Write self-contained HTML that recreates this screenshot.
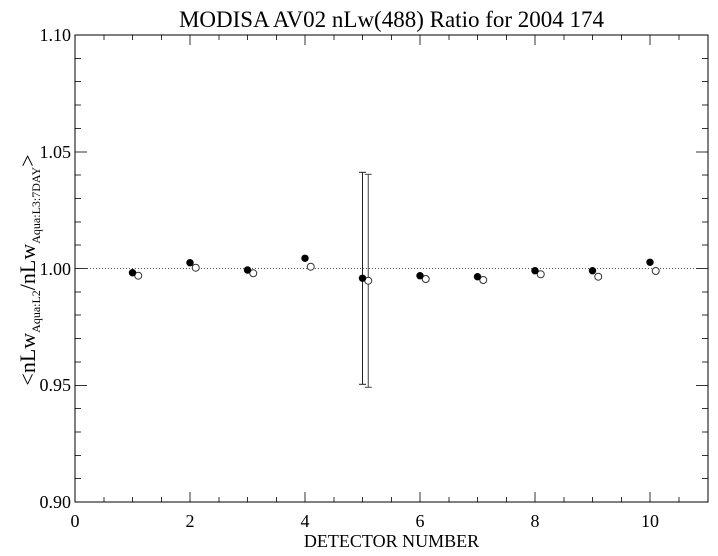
<!DOCTYPE html>
<html>
<head>
<meta charset="utf-8">
<style>
  html, body { margin: 0; padding: 0; background: #ffffff; }
  body { width: 718px; height: 556px; overflow: hidden; }
  svg { display: block; }
  text { font-family: "Liberation Serif", "DejaVu Serif", serif; fill: #000; }
</style>
</head>
<body>
<svg width="718" height="556" viewBox="0 0 718 556" xmlns="http://www.w3.org/2000/svg">
  <rect x="0" y="0" width="718" height="556" fill="#ffffff"/>

  <!-- Title -->
  <text x="391.5" y="27" font-size="23" text-anchor="middle">MODISA AV02 nLw(488) Ratio for 2004 174</text>

  <!-- Dotted reference line at 1.00 -->
  <line x1="75" y1="268.5" x2="708" y2="268.5" stroke="#555" stroke-width="1" stroke-dasharray="1,2"/>

  <!-- Ticks -->
  <g stroke="#333" stroke-width="1" shape-rendering="crispEdges">
    <!-- x minor ticks bottom & top (every 0.5) -->
    <line x1="103.75" y1="502" x2="103.75" y2="497"/><line x1="103.75" y1="35" x2="103.75" y2="40"/>
    <line x1="132.5" y1="502" x2="132.5" y2="497"/><line x1="132.5" y1="35" x2="132.5" y2="40"/>
    <line x1="161.25" y1="502" x2="161.25" y2="497"/><line x1="161.25" y1="35" x2="161.25" y2="40"/>
    <line x1="218.75" y1="502" x2="218.75" y2="497"/><line x1="218.75" y1="35" x2="218.75" y2="40"/>
    <line x1="247.5" y1="502" x2="247.5" y2="497"/><line x1="247.5" y1="35" x2="247.5" y2="40"/>
    <line x1="276.25" y1="502" x2="276.25" y2="497"/><line x1="276.25" y1="35" x2="276.25" y2="40"/>
    <line x1="333.75" y1="502" x2="333.75" y2="497"/><line x1="333.75" y1="35" x2="333.75" y2="40"/>
    <line x1="362.5" y1="502" x2="362.5" y2="497"/><line x1="362.5" y1="35" x2="362.5" y2="40"/>
    <line x1="391.25" y1="502" x2="391.25" y2="497"/><line x1="391.25" y1="35" x2="391.25" y2="40"/>
    <line x1="448.75" y1="502" x2="448.75" y2="497"/><line x1="448.75" y1="35" x2="448.75" y2="40"/>
    <line x1="477.5" y1="502" x2="477.5" y2="497"/><line x1="477.5" y1="35" x2="477.5" y2="40"/>
    <line x1="506.25" y1="502" x2="506.25" y2="497"/><line x1="506.25" y1="35" x2="506.25" y2="40"/>
    <line x1="563.75" y1="502" x2="563.75" y2="497"/><line x1="563.75" y1="35" x2="563.75" y2="40"/>
    <line x1="592.5" y1="502" x2="592.5" y2="497"/><line x1="592.5" y1="35" x2="592.5" y2="40"/>
    <line x1="621.25" y1="502" x2="621.25" y2="497"/><line x1="621.25" y1="35" x2="621.25" y2="40"/>
    <line x1="678.75" y1="502" x2="678.75" y2="497"/><line x1="678.75" y1="35" x2="678.75" y2="40"/>
    <!-- x major ticks -->
    <line x1="190" y1="502" x2="190" y2="492"/><line x1="190" y1="35" x2="190" y2="45"/>
    <line x1="305" y1="502" x2="305" y2="492"/><line x1="305" y1="35" x2="305" y2="45"/>
    <line x1="420" y1="502" x2="420" y2="492"/><line x1="420" y1="35" x2="420" y2="45"/>
    <line x1="535" y1="502" x2="535" y2="492"/><line x1="535" y1="35" x2="535" y2="45"/>
    <line x1="650" y1="502" x2="650" y2="492"/><line x1="650" y1="35" x2="650" y2="45"/>

    <!-- y minor ticks left & right (every 0.01) -->
    <line x1="75" y1="58.35" x2="81" y2="58.35"/><line x1="708" y1="58.35" x2="702" y2="58.35"/>
    <line x1="75" y1="81.7" x2="81" y2="81.7"/><line x1="708" y1="81.7" x2="702" y2="81.7"/>
    <line x1="75" y1="105.05" x2="81" y2="105.05"/><line x1="708" y1="105.05" x2="702" y2="105.05"/>
    <line x1="75" y1="128.4" x2="81" y2="128.4"/><line x1="708" y1="128.4" x2="702" y2="128.4"/>
    <line x1="75" y1="175.1" x2="81" y2="175.1"/><line x1="708" y1="175.1" x2="702" y2="175.1"/>
    <line x1="75" y1="198.45" x2="81" y2="198.45"/><line x1="708" y1="198.45" x2="702" y2="198.45"/>
    <line x1="75" y1="221.8" x2="81" y2="221.8"/><line x1="708" y1="221.8" x2="702" y2="221.8"/>
    <line x1="75" y1="245.15" x2="81" y2="245.15"/><line x1="708" y1="245.15" x2="702" y2="245.15"/>
    <line x1="75" y1="291.85" x2="81" y2="291.85"/><line x1="708" y1="291.85" x2="702" y2="291.85"/>
    <line x1="75" y1="315.2" x2="81" y2="315.2"/><line x1="708" y1="315.2" x2="702" y2="315.2"/>
    <line x1="75" y1="338.55" x2="81" y2="338.55"/><line x1="708" y1="338.55" x2="702" y2="338.55"/>
    <line x1="75" y1="361.9" x2="81" y2="361.9"/><line x1="708" y1="361.9" x2="702" y2="361.9"/>
    <line x1="75" y1="408.6" x2="81" y2="408.6"/><line x1="708" y1="408.6" x2="702" y2="408.6"/>
    <line x1="75" y1="431.95" x2="81" y2="431.95"/><line x1="708" y1="431.95" x2="702" y2="431.95"/>
    <line x1="75" y1="455.3" x2="81" y2="455.3"/><line x1="708" y1="455.3" x2="702" y2="455.3"/>
    <line x1="75" y1="478.65" x2="81" y2="478.65"/><line x1="708" y1="478.65" x2="702" y2="478.65"/>
    <!-- y major ticks -->
    <line x1="75" y1="151.75" x2="87" y2="151.75"/><line x1="708" y1="151.75" x2="696" y2="151.75"/>
    <line x1="75" y1="268.5" x2="87" y2="268.5"/><line x1="708" y1="268.5" x2="696" y2="268.5"/>
    <line x1="75" y1="385.25" x2="87" y2="385.25"/><line x1="708" y1="385.25" x2="696" y2="385.25"/>
  </g>

  <!-- Axis box -->
  <rect x="75" y="35" width="633" height="467" fill="none" stroke="#000" stroke-width="1" shape-rendering="crispEdges"/>

  <!-- Y tick labels -->
  <g font-size="18" text-anchor="end">
    <text x="71" y="41">1.10</text>
    <text x="71" y="158">1.05</text>
    <text x="71" y="275">1.00</text>
    <text x="71" y="391">0.95</text>
    <text x="71" y="508">0.90</text>
  </g>

  <!-- X tick labels -->
  <g font-size="18" text-anchor="middle">
    <text x="75" y="527">0</text>
    <text x="190" y="527">2</text>
    <text x="305" y="527">4</text>
    <text x="420" y="527">6</text>
    <text x="535" y="527">8</text>
    <text x="650" y="527">10</text>
  </g>

  <!-- X axis title -->
  <text x="391.5" y="547" font-size="18" text-anchor="middle">DETECTOR NUMBER</text>

  <!-- Y axis title (rotated) -->
  <text transform="translate(35,270) rotate(-90)" font-size="22" text-anchor="middle">&lt;nLw<tspan font-size="12" dy="5">Aqua:L2</tspan><tspan dy="-5">/nLw</tspan><tspan font-size="12" dy="5">Aqua:L3:7DAY</tspan><tspan dy="-5">&gt;</tspan></text>

  <!-- Error bars -->
  <g stroke="#222" stroke-width="1" fill="none">
    <line x1="362.5" y1="172.3" x2="362.5" y2="384.3"/>
    <line x1="359" y1="172.3" x2="366" y2="172.3"/>
    <line x1="359" y1="384.3" x2="366" y2="384.3"/>
  </g>
  <g stroke="#444" stroke-width="1" fill="none">
    <line x1="368.25" y1="174.3" x2="368.25" y2="387.3"/>
    <line x1="364.75" y1="174.3" x2="371.75" y2="174.3"/>
    <line x1="364.75" y1="387.3" x2="371.75" y2="387.3"/>
  </g>

  <!-- Open circles -->
  <g fill="#ffffff" stroke="#333" stroke-width="1">
    <circle cx="138.25" cy="275.7" r="3.5"/>
    <circle cx="195.75" cy="267.7" r="3.5"/>
    <circle cx="253.25" cy="273.3" r="3.5"/>
    <circle cx="310.75" cy="266.7" r="3.5"/>
    <circle cx="368.25" cy="280.7" r="3.5"/>
    <circle cx="425.75" cy="279" r="3.5"/>
    <circle cx="483.25" cy="280" r="3.5"/>
    <circle cx="540.75" cy="274.3" r="3.5"/>
    <circle cx="598.25" cy="276.7" r="3.5"/>
    <circle cx="655.75" cy="271" r="3.5"/>
  </g>

  <!-- Filled circles -->
  <g fill="#000">
    <circle cx="132.5" cy="272.7" r="3.7"/>
    <circle cx="190" cy="262.7" r="3.7"/>
    <circle cx="247.5" cy="270" r="3.7"/>
    <circle cx="305" cy="258.3" r="3.7"/>
    <circle cx="362.5" cy="278.3" r="3.7"/>
    <circle cx="420" cy="275.7" r="3.7"/>
    <circle cx="477.5" cy="276.7" r="3.7"/>
    <circle cx="535" cy="270.7" r="3.7"/>
    <circle cx="592.5" cy="270.7" r="3.7"/>
    <circle cx="650" cy="262.3" r="3.7"/>
  </g>
</svg>
</body>
</html>
